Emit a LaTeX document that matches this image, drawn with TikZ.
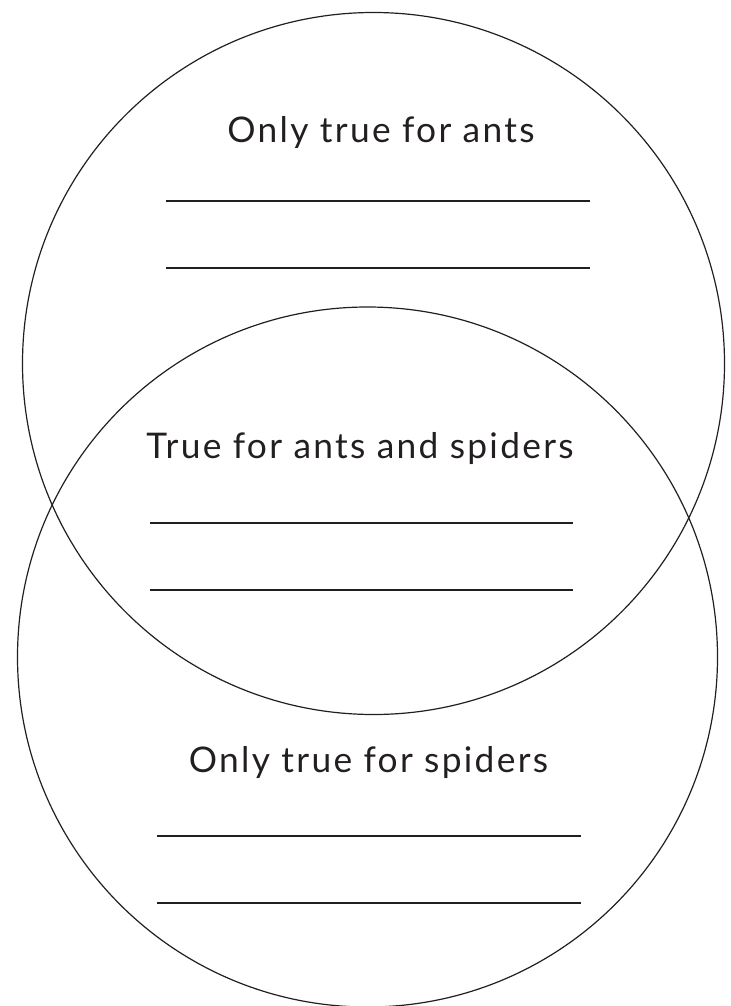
\documentclass[tikz,border=0pt]{standalone}
\usepackage{fontspec}
\setmainfont{Lato}[LetterSpace=6.5]
\usepackage{tikz}
\usetikzlibrary{positioning}
\definecolor{Ink}{HTML}{231F20}

\begin{document}
\begin{tikzpicture}[x=0.75pt, y=-0.75pt,
    heading/.style={anchor=base, inner sep=0pt, text=Ink,
      font=\fontsize{26.5}{30}\selectfont},
    writeline/.style={draw=Ink, line width=1.1pt}]
  \useasboundingbox (0,0) rectangle (731,1006);
  % Two overlapping sets
  \draw[Ink, line width=0.9pt] (373.5,363.5) circle[radius=351];
  \draw[Ink, line width=0.9pt] (367.5,657) circle[radius=350];
  % Ants only
  \node[heading] (antsOnly) at (381,142) {Only true for ants};
  \draw[writeline] (166,201) -- (590,201);
  \draw[writeline] (166,268) -- (590,268);
  % Both
  \node[heading] (both) at (360,458) {True for ants and spiders};
  \draw[writeline] (150,523) -- (573,523);
  \draw[writeline] (150,590) -- (573,590);
  % Spiders only
  \node[heading] (spidersOnly) at (368.5,772) {Only true for spiders};
  \draw[writeline] (157,836) -- (581,836);
  \draw[writeline] (157,903) -- (581,903);
\end{tikzpicture}
\end{document}
